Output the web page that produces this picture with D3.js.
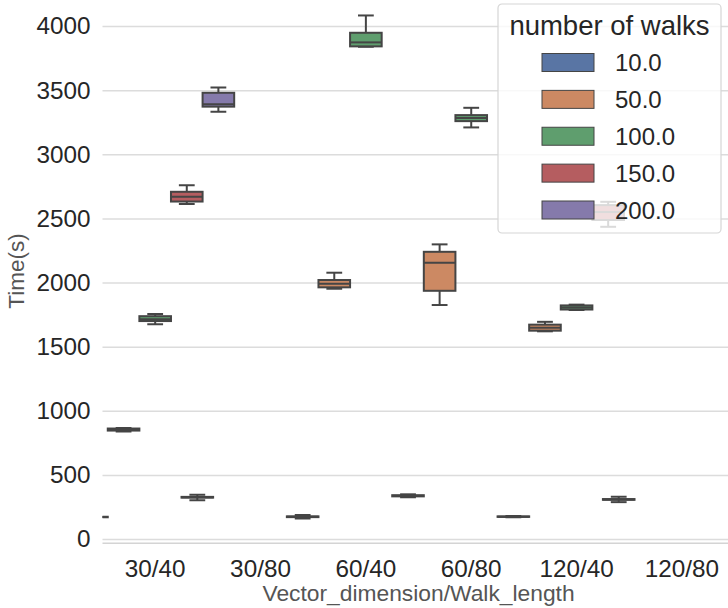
<!DOCTYPE html>
<html>
<head>
<meta charset="utf-8">
<script src="https://cdn.jsdelivr.net/npm/d3@7"></script>
<style>
  html, body { margin: 0; padding: 0; background: #ffffff; }
  svg { display: block; font-family: "Liberation Sans", Arial, sans-serif; }
</style>
</head>
<body>
<svg id="chart" width="728" height="608"></svg>
<script>
// ---- data ----
const categories = ["30/40", "30/80", "60/40", "60/80", "120/40", "120/80"];
const hueLevels = ["10.0", "50.0", "100.0", "150.0", "200.0"];
const hueColors = ["#5975a4", "#cc8963", "#5f9e6e", "#b55d60", "#857aab"];
const yTicks = [0, 500, 1000, 1500, 2000, 2500, 3000, 3500, 4000];

// one entry per box (category, hue, five-number summary)
const boxCategory = ["30/40", "30/40", "30/40", "30/40", "30/40", "30/80",
                     "60/40", "60/40", "60/40", "60/80", "60/80", "60/80",
                     "120/40", "120/40", "120/40", "120/40", "120/80"];
const boxHue      = ["10.0", "50.0", "100.0", "150.0", "200.0", "10.0",
                     "10.0", "50.0", "100.0", "10.0", "50.0", "100.0",
                     "10.0", "50.0", "100.0", "150.0", "10.0"];
const whiskerLow  = [168, 838, 1675, 2612, 3332, 302, 160, 1952, 3839, 326, 1825, 3210, 171, 1620, 1786, 2435, 288];
const quartile1   = [170, 846, 1700, 2632, 3372, 323, 171, 1963, 3842, 333, 1936, 3259, 173, 1625, 1790, 2488, 306];
const medians     = [172, 855, 1715, 2670, 3390, 326, 174, 1990, 3873, 337, 2155, 3283, 175, 1648, 1805, 2550, 309];
const quartile3   = [174, 862, 1738, 2708, 3480, 329, 177, 2020, 3948, 342, 2240, 3306, 177, 1672, 1822, 2604, 312];
const whiskerHigh = [176, 866, 1755, 2760, 3522, 346, 188, 2077, 4083, 349, 2298, 3363, 180, 1694, 1828, 2630, 330];

// ---- layout ----
const plot = { left: 102.5, right: 734.6, top: -9.8, bottom: 543.3 };
const edge = "#454545";

const svg = d3.select("#chart");
svg.append("rect").attr("width", 728).attr("height", 608).attr("fill", "#ffffff");

const x = d3.scaleBand().domain(categories).range([plot.left, plot.right]).padding(0);
const hueX = d3.scaleBand().domain(hueLevels)
  .range([-0.75 * x.bandwidth(), 0.75 * x.bandwidth()]).padding(0);
const y = d3.scaleLinear().domain([-33, 4280]).range([plot.bottom, plot.top]);
const color = d3.scaleOrdinal().domain(hueLevels).range(hueColors);

svg.append("defs").append("clipPath").attr("id", "plotclip")
  .append("rect")
  .attr("x", plot.left).attr("y", plot.top)
  .attr("width", plot.right - plot.left).attr("height", plot.bottom - plot.top);

// grid lines
const yAxis = d3.axisLeft(y).tickValues(yTicks).tickSize(-(plot.right - plot.left)).tickPadding(12)
  .tickFormat(d3.format("d"));
const gy = svg.append("g").attr("transform", `translate(${plot.left},0)`).call(yAxis);
gy.select(".domain").remove();
gy.selectAll(".tick line").attr("stroke", "#dcdcdc").attr("stroke-width", 1.5);
gy.selectAll(".tick text").attr("fill", "#262626").attr("font-size", 24.3)
  .attr("font-family", "'Liberation Sans', Arial, sans-serif");

// bottom spine
svg.append("line").attr("x1", plot.left).attr("x2", plot.right)
  .attr("y1", plot.bottom).attr("y2", plot.bottom)
  .attr("stroke", "#d4d4d4").attr("stroke-width", 1.5);

// x axis labels
const xAxis = d3.axisBottom(x).tickSize(0).tickPadding(16);
const gx = svg.append("g").attr("transform", `translate(0,${plot.bottom})`).call(xAxis);
gx.select(".domain").remove();
gx.selectAll(".tick text").attr("fill", "#262626").attr("font-size", 24.3)
  .attr("font-family", "'Liberation Sans', Arial, sans-serif");

// boxes
const boxes = boxCategory.map((c, i) => ({
  cat: c, hue: boxHue[i], lo: whiskerLow[i], q1: quartile1[i], med: medians[i],
  q3: quartile3[i], hi: whiskerHigh[i]
}));
const bw = hueX.bandwidth();
const gBoxes = svg.append("g").attr("clip-path", "url(#plotclip)");
boxes.forEach(b => {
  const cx = x(b.cat) + x.bandwidth() / 2 + hueX(b.hue) + bw / 2;
  const g = gBoxes.append("g");
  // whiskers
  g.append("line").attr("x1", cx).attr("x2", cx).attr("y1", y(b.q3)).attr("y2", y(b.hi))
    .attr("stroke", edge).attr("stroke-width", 2);
  g.append("line").attr("x1", cx).attr("x2", cx).attr("y1", y(b.q1)).attr("y2", y(b.lo))
    .attr("stroke", edge).attr("stroke-width", 2);
  // caps
  [b.hi, b.lo].forEach(v => {
    g.append("line").attr("x1", cx - bw / 4).attr("x2", cx + bw / 4)
      .attr("y1", y(v)).attr("y2", y(v)).attr("stroke", edge).attr("stroke-width", 2);
  });
  // box
  g.append("rect").attr("x", cx - bw / 2).attr("width", bw)
    .attr("y", y(b.q3)).attr("height", Math.max(0.5, y(b.q1) - y(b.q3)))
    .attr("fill", color(b.hue)).attr("stroke", edge).attr("stroke-width", 2);
  // median
  g.append("line").attr("x1", cx - bw / 2).attr("x2", cx + bw / 2)
    .attr("y1", y(b.med)).attr("y2", y(b.med)).attr("stroke", edge).attr("stroke-width", 2);
});

// axis titles
svg.append("text").attr("x", (plot.left + plot.right) / 2).attr("y", 601)
  .attr("text-anchor", "middle").attr("font-size", 22.8).attr("fill", "#555555")
  .text("Vector_dimension/Walk_length");
svg.append("text").attr("transform", `translate(24,${271}) rotate(-90)`)
  .attr("text-anchor", "middle").attr("font-size", 22.5).attr("fill", "#555555")
  .text("Time(s)");

// legend
const lg = svg.append("g");
lg.append("rect").attr("x", 498).attr("y", 4).attr("width", 223).attr("height", 229)
  .attr("rx", 4).attr("fill", "rgba(255,255,255,0.8)").attr("stroke", "#d6d6d6").attr("stroke-width", 1.2);
lg.append("text").attr("x", 609.5).attr("y", 34.5).attr("text-anchor", "middle")
  .attr("font-size", 27.5).attr("fill", "#262626").text("number of walks");
const rowY = d3.scalePoint().domain(hueLevels).range([62.5, 210]);
hueLevels.forEach(h => {
  lg.append("rect").attr("x", 542).attr("y", rowY(h) - 9).attr("width", 52).attr("height", 18)
    .attr("fill", color(h)).attr("stroke", edge).attr("stroke-width", 1);
  lg.append("text").attr("x", 615).attr("y", rowY(h) + 8.5).attr("font-size", 24)
    .attr("fill", "#262626").text(h);
});
</script>
</body>
</html>
